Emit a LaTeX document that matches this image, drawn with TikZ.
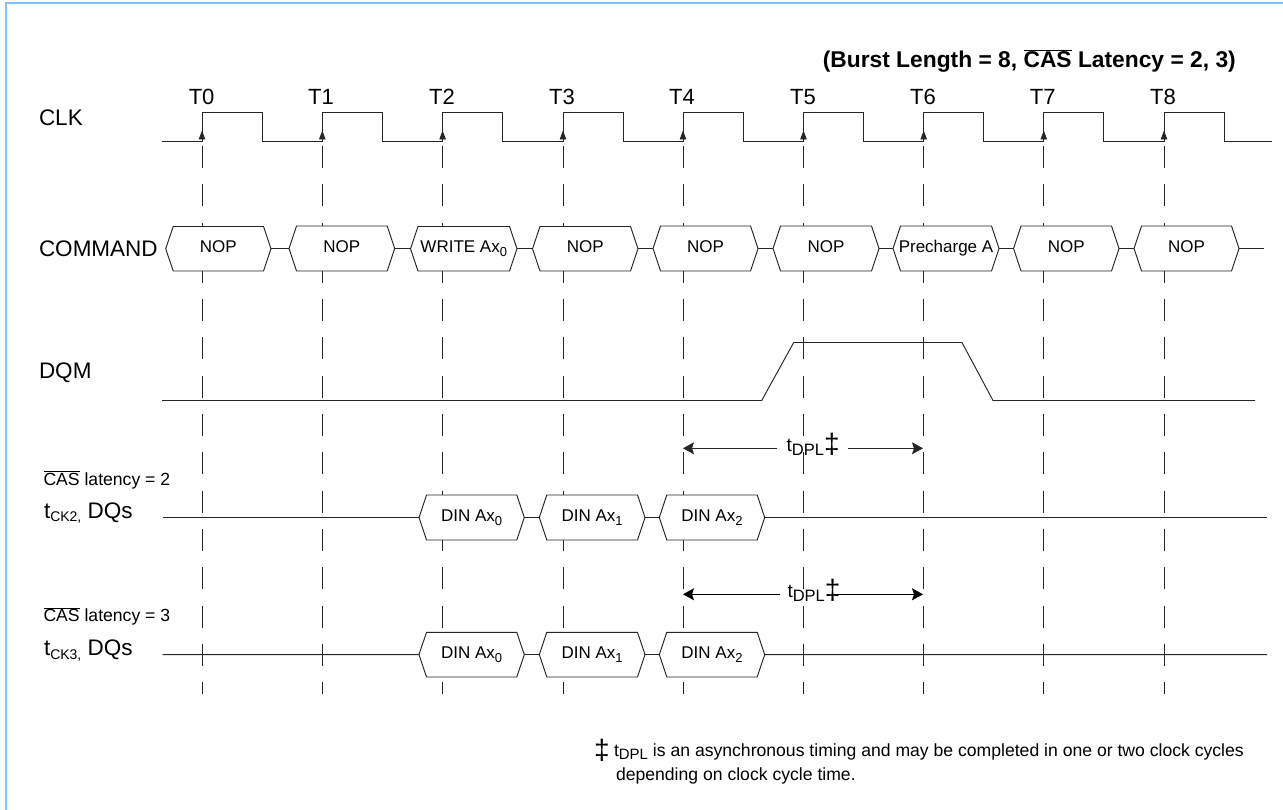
\documentclass[tikz,border=0pt]{standalone}
\usepackage{fontspec}
\setmainfont{Liberation Sans}
\usetikzlibrary{arrows.meta}
\definecolor{wire}{HTML}{262626}
\definecolor{frame}{HTML}{80C4FF}
\newcommand\fs[1]{\fontsize{#1}{#1}\selectfont}
\newcommand\lowtxt[2]{\raisebox{-3.5pt}{\fs{#2}#1}}
\newcommand\ovl[1]{$\overline{\mbox{#1}}$}
\newcommand\hexnode[6]{%
  \pgfmathsetmacro\hxw{#3-(#2)}%
  \pgfmathsetmacro\hxh{#5-(#4)}%
  \pgfmathsetmacro\hxm{(#4+#5)/2}%
  \pgfmathsetmacro\hxc{(#2+#3)/2}%
  \pgfmathsetmacro\hxa{#2+7.5}%
  \pgfmathsetmacro\hxb{#3-7.5}%
  \path[wave,fill=white] (#2,\hxm) -- (\hxa,#4) -- (\hxb,#4) -- (#3,\hxm) -- (\hxb,#5) -- (\hxa,#5) -- cycle;
  \node[boxtext,minimum width=\hxw pt,minimum height=\hxh pt] (#1) at (\hxc,\hxm) {#6};
}
\tikzset{
  wave/.style={draw=wire,line width=0.95pt,line join=miter},
  guide/.style={draw=wire,line width=0.9pt,dash pattern=on 22pt off 16.3pt},
  boxtext/.style={inner sep=0pt,outer sep=0pt,font=\fs{17},text=black,text height=12pt,text depth=3.6pt,align=center},
  lab/.style={inner sep=0pt,outer sep=0pt,anchor=base west,font=\fs{22.5},text=black},
  tlab/.style={inner sep=0pt,outer sep=0pt,anchor=base,font=\fs{22},text=black},
  small/.style={inner sep=0pt,outer sep=0pt,anchor=base west,font=\fs{17.6},text=black},
  note/.style={inner sep=0pt,outer sep=0pt,anchor=base west,font=\fs{17.6},text=black},
  span/.style={draw=wire,line width=0.95pt,-{Stealth[length=11pt,width=12pt,inset=2pt]}},
  spanb/.style={draw=black,line width=1.3pt,-{Stealth[length=11pt,width=12pt,inset=2pt]}},
  tip/.style={draw=wire,line width=0.9pt,-{Triangle[length=9pt,width=6.5pt]}},
}
\begin{document}
\begin{tikzpicture}[x=1pt,y=-1pt]
\useasboundingbox (0,0) rectangle (1283,810);
% frame
\draw[frame,line width=2pt] (6,810) -- (6,2.7) -- (1283,2.7);
% guides
\foreach \i/\x in {0/202,1/322.3,2/442.6,3/563,4/683,5/803.5,6/923.7,7/1043.8,8/1164}{
  \coordinate (e\i) at (\x,141.5);
  \coordinate (g\i) at (\x,146);
  \coordinate (h\i) at (\x,694);
  \draw[guide] (g\i) -- (h\i);
}
% clock
\draw[wave] (162,141.5)
  \foreach \x in {202,322.3,442.6,563,683,803.5,923.7,1043.8,1164}{
    -- (\x,141.5) -- (\x,112) -- (\x+60,112) -- (\x+60,141.5)
  } -- (1272,141.5);
\foreach \i in {0,...,8}{
  \draw[tip] (e\i) -- ([yshift=11pt]e\i);
}
\foreach \i/\x in {0/201.6,1/321,2/442,3/562,4/682,5/803,6/923,7/1042.7,8/1163}{
  \node[tlab] (t\i) at (\x,104.3) {T\i};
}
% left labels
\node[lab] (lclk) at (39,126) {CLK};
\node[lab] (lcmd) at (39,256.7) {COMMAND};
\node[lab] (ldqm) at (39,379) {DQM};
\node[small] (lcas2) at (43.5,485) {\ovl{CAS} latency = 2};
\node[small] (lcas3) at (43.5,621.7) {\ovl{CAS} latency = 3};
\node[lab] (ld2) at (44,518.3) {t\lowtxt{CK2,}{14} DQs};
\node[lab] (ld3) at (44,655.6) {t\lowtxt{CK3,}{14} DQs};
% title
\node[inner sep=0pt,anchor=base east,font=\bfseries\fs{22.8},text=black] (title) at (1236,67.7) {(Burst Length = 8, \ovl{CAS} Latency = 2, 3)};
% command row
\hexnode{c0}{165.7}{271}{226.5}{271}{NOP}
\hexnode{c1}{289}{394.7}{226}{271}{NOP}
\hexnode{c2}{410.5}{517}{226.5}{271}{WRITE Ax\lowtxt{0}{13}}
\hexnode{c3}{532.5}{638}{226.5}{271}{NOP}
\hexnode{c4}{653}{758}{226}{271}{NOP}
\hexnode{c5}{773}{879}{226}{271}{NOP}
\hexnode{c6}{893}{999}{226}{271}{Precharge A}
\hexnode{c7}{1013.5}{1119}{226}{271}{NOP}
\hexnode{c8}{1134}{1239}{226}{271}{NOP}
\coordinate (cend) at (1264,248.5);
\foreach \a/\b in {c0/c1,c1/c2,c2/c3,c3/c4,c4/c5,c5/c6,c6/c7,c7/c8}{
  \draw[wave] (\a.east) -- (\b.west |- \a.east);
}
\draw[wave] (c8.east) -- (cend);
% DQM
\draw[wave] (162,400.5) -- (761.7,400.5) -- (793.7,342.5) -- (962,342.5) -- (993,400.5) -- (1255,400.5);
% tDPL spans
\coordinate (a1l) at (683,448.3);
\coordinate (a1r) at (923,448.3);
\node[inner sep=0pt,outer sep=0pt,anchor=base west,font=\fs{19},text=black] (dpa) at (786.7,451.5) {t\lowtxt{DPL}{16.5}\raisebox{-2pt}{\fs{28}‡}};
\draw[span] ([xshift=-10pt]dpa.west |- a1l) -- (a1l);
\draw[span] ([xshift=8pt]dpa.east |- a1r) -- (a1r);
\coordinate (a2l) at (683,594.3);
\coordinate (a2r) at (923,594.3);
\node[inner sep=0pt,outer sep=0pt,anchor=base west,font=\fs{19},text=black] (dpb) at (787.5,597.5) {t\lowtxt{DPL}{16.5}\raisebox{-2pt}{\fs{28}‡}};
\draw[spanb] ([xshift=-8pt]dpb.west |- a2l) -- (a2l);
\draw[spanb] ([xshift=-6pt]dpb.east |- a2r) -- (a2r);
% DQs row 1
\coordinate (r1a) at (162.7,517.5);
\coordinate (r1b) at (1267,517.5);
\hexnode{d0}{419}{524.3}{495}{540}{DIN Ax\lowtxt{0}{13}}
\hexnode{d1}{539.3}{645}{495}{540}{DIN Ax\lowtxt{1}{13}}
\hexnode{d2}{659.3}{764.7}{495}{540}{DIN Ax\lowtxt{2}{13}}
\draw[wave] (r1a) -- (d0.west);
\draw[wave] (d0.east) -- (d1.west);
\draw[wave] (d1.east) -- (d2.west);
\draw[wave] (d2.east) -- (r1b);
% DQs row 2
\coordinate (r2a) at (162.7,654.7);
\coordinate (r2b) at (1267,654.7);
\hexnode{f0}{419}{524.3}{632.3}{677}{DIN Ax\lowtxt{0}{13}}
\hexnode{f1}{539.3}{645}{632.3}{677}{DIN Ax\lowtxt{1}{13}}
\hexnode{f2}{659.3}{764.7}{632.3}{677}{DIN Ax\lowtxt{2}{13}}
\draw[wave] (r2a) -- (f0.west);
\draw[wave] (f0.east) -- (f1.west);
\draw[wave] (f1.east) -- (f2.west);
\draw[wave] (f2.east) -- (r2b);
% footnote
\node[inner sep=0pt,anchor=base west,font=\fs{28},text=black] (dg) at (594,759) {‡};
\node[note] (n1) at (614,756) {t\lowtxt{DPL}{15} is an asynchronous timing and may be completed in one or two clock cycles};
\node[note] (n2) at (616,780.7) {depending on clock cycle time.};
\end{tikzpicture}
\end{document}
